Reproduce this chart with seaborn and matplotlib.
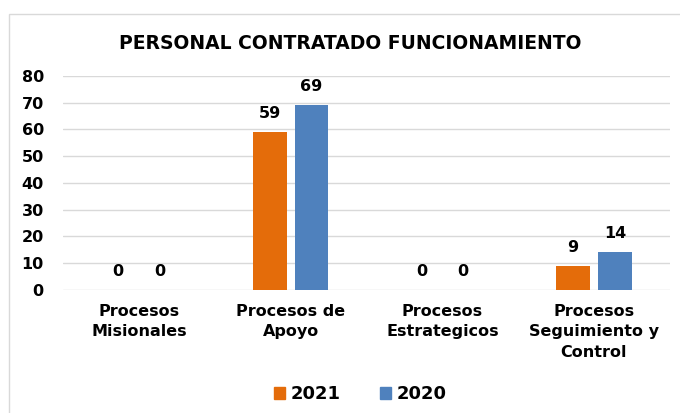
import matplotlib
matplotlib.use("Agg")
import matplotlib.pyplot as plt
import seaborn as sns
import pandas as pd
from matplotlib.patches import Rectangle

categories = ["Procesos\nMisionales", "Procesos de\nApoyo", "Procesos\nEstrategicos",
              "Procesos\nSeguimiento y\nControl"]
values_2021 = [0, 59, 0, 9]
values_2020 = [0, 69, 0, 14]
years = ["2021", "2020"]
colors = ["#E46C0A", "#4F81BD"]

df = pd.DataFrame({
    "categoria": categories * 2,
    "valor": values_2021 + values_2020,
    "anio": [years[0]] * 4 + [years[1]] * 4,
})

sns.set_style("white")
plt.rcParams["font.family"] = ["DejaVu Sans"]
plt.rcParams["text.color"] = "black"
plt.rcParams["xtick.color"] = "black"
plt.rcParams["ytick.color"] = "black"

fig = plt.figure(figsize=(6.8, 4.13), dpi=100)
ax = fig.add_axes([0.093, 0.298, 0.892, 0.518])

sns.barplot(data=df, x="categoria", y="valor", hue="anio", hue_order=years,
            palette=colors, width=0.55, gap=0.2, saturation=1, linewidth=0,
            ax=ax, zorder=3)

for cont in ax.containers:
    ax.bar_label(cont, fmt="%g", padding=8, fontsize=11.5, fontweight="bold",
                 color="black")

ax.set_ylim(0, 80)
ax.set_yticks(range(0, 81, 10))
ax.yaxis.grid(True, color="#D9D9D9", linewidth=1, zorder=0)
ax.set_axisbelow(True)
for s in ax.spines.values():
    s.set_visible(False)
ax.tick_params(length=0)
ax.tick_params(axis="y", pad=14)
ax.tick_params(axis="x", pad=10)
for lab in ax.get_yticklabels() + ax.get_xticklabels():
    lab.set_fontweight("bold")
    lab.set_fontsize(11.5)
    lab.set_color("black")
for lab in ax.get_xticklabels():
    lab.set_linespacing(1.45)
ax.set_xlabel("")
ax.set_ylabel("")

ax.legend_.remove()
handles = [Rectangle((0, 0), 1, 1, color=c) for c in colors]
fig.legend(handles, years, loc="center", bbox_to_anchor=(0.53, 0.045), ncol=2,
           frameon=False, prop={"weight": "bold", "size": 13}, handlelength=0.6,
           handleheight=0.6, handletextpad=0.3, columnspacing=2.2)

fig.text(0.515, 0.895, "PERSONAL CONTRATADO FUNCIONAMIENTO", ha="center", va="center",
         fontsize=13.5, fontweight="bold", color="black")

fig.patches.append(Rectangle((9 / 680, -0.01), 1.0, 1 - 14 / 413 + 0.01,
                             transform=fig.transFigure, fill=False,
                             edgecolor="#D9D9D9", linewidth=1))

fig.savefig("out.png", dpi=100, facecolor="white")
